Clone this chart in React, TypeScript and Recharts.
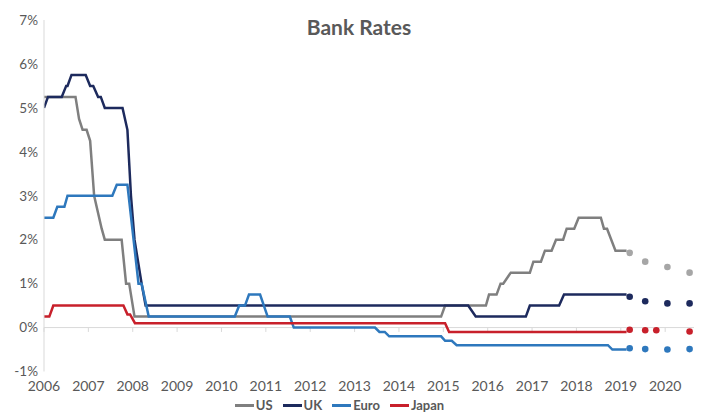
import React from "react";
import { LineChart, Line, XAxis, YAxis, ReferenceLine, Legend } from "recharts";

const yearTicks = [2006, 2007, 2008, 2009, 2010, 2011, 2012, 2013, 2014, 2015, 2016, 2017, 2018, 2019, 2020];
const rateTicks = [-1, 0, 1, 2, 3, 4, 5, 6, 7];

const usPoints: [number, number][] = [
  [2006.0, 5.25], [2006.71, 5.25], [2006.79, 4.75], [2006.87, 4.5], [2006.96, 4.5], [2007.04, 4.25],
  [2007.13, 3.0], [2007.3, 2.25], [2007.37, 2.0], [2007.75, 2.0], [2007.85, 1.0], [2007.92, 1.0],
  [2008.04, 0.25], [2014.95, 0.25], [2015.04, 0.5], [2015.96, 0.5], [2016.03, 0.75], [2016.2, 0.75],
  [2016.29, 1.0], [2016.35, 1.0], [2016.52, 1.25], [2016.95, 1.25], [2017.03, 1.5], [2017.2, 1.5],
  [2017.29, 1.75], [2017.44, 1.75], [2017.54, 2.0], [2017.7, 2.0], [2017.78, 2.25], [2017.95, 2.25],
  [2018.05, 2.5], [2018.55, 2.5], [2018.62, 2.25], [2018.69, 2.25], [2018.88, 1.75], [2019.13, 1.75],
];

const ukPoints: [number, number][] = [
  [2006.0, 5.0], [2006.09, 5.25], [2006.4, 5.25], [2006.5, 5.5], [2006.53, 5.5], [2006.62, 5.75],
  [2006.94, 5.75], [2007.04, 5.5], [2007.11, 5.5], [2007.22, 5.25], [2007.28, 5.25], [2007.37, 5.0],
  [2007.77, 5.0], [2007.88, 4.5], [2007.96, 3.0], [2008.04, 2.0], [2008.12, 1.5], [2008.2, 1.0],
  [2008.29, 0.5], [2015.56, 0.5], [2015.73, 0.25], [2016.86, 0.25], [2016.95, 0.5], [2017.61, 0.5],
  [2017.72, 0.75], [2019.13, 0.75],
];

const euroPoints: [number, number][] = [
  [2006.0, 2.5], [2006.21, 2.5], [2006.3, 2.75], [2006.46, 2.75], [2006.53, 3.0], [2007.54, 3.0],
  [2007.64, 3.25], [2007.88, 3.25], [2008.13, 1.0], [2008.2, 1.0], [2008.36, 0.25], [2010.3, 0.25],
  [2010.4, 0.5], [2010.53, 0.5], [2010.62, 0.75], [2010.87, 0.75], [2011.04, 0.25], [2011.54, 0.25],
  [2011.63, 0.0], [2013.46, 0.0], [2013.56, -0.1], [2013.68, -0.1], [2013.78, -0.2], [2014.95, -0.2],
  [2015.04, -0.3], [2015.19, -0.3], [2015.3, -0.4], [2018.71, -0.4], [2018.81, -0.5], [2019.13, -0.5],
];

const japanPoints: [number, number][] = [
  [2006.0, 0.25], [2006.12, 0.25], [2006.21, 0.5], [2007.79, 0.5], [2007.88, 0.3], [2007.94, 0.3],
  [2008.05, 0.1], [2015.04, 0.1], [2015.13, -0.1], [2019.13, -0.1],
];

const usForecast: [number, number][] = [[2019.2, 1.7], [2019.55, 1.5], [2020.05, 1.38], [2020.55, 1.25]];
const ukForecast: [number, number][] = [[2019.2, 0.7], [2019.55, 0.6], [2020.05, 0.55], [2020.55, 0.55]];
const euroForecast: [number, number][] = [[2019.2, -0.47], [2019.55, -0.49], [2020.05, -0.5], [2020.55, -0.49]];
const japanForecast: [number, number][] = [[2019.2, -0.05], [2019.55, -0.06], [2019.8, -0.06], [2020.55, -0.09]];

const toRows = (pts: [number, number][]) => pts.map(([t, v]) => ({ t, v }));

const FONT = "Lato, 'Open Sans', sans-serif";
const TEXT = "#595959";

const series = [
  { name: "US", color: "#7f7f7f", dotColor: "#a6a6a6", line: usPoints, dots: usForecast },
  { name: "UK", color: "#1d2a5d", dotColor: "#1d2a5d", line: ukPoints, dots: ukForecast },
  { name: "Euro", color: "#2e78bd", dotColor: "#2e78bd", line: euroPoints, dots: euroForecast },
  { name: "Japan", color: "#c8202b", dotColor: "#c8202b", line: japanPoints, dots: japanForecast },
];
const seriesOrder = series.map((s) => s.name);

const renderLegend = (props: any) => {
  const payload = (props.payload || [])
    .filter((p: any) => p.type !== "none" && seriesOrder.includes(p.value))
    .sort((a: any, b: any) => seriesOrder.indexOf(a.value) - seriesOrder.indexOf(b.value));
  return (
    <div
      style={{
        width: 694,
        height: 14,
        display: "flex",
        justifyContent: "center",
        alignItems: "center",
        paddingRight: 31,
        boxSizing: "border-box",
        fontFamily: FONT,
        fontWeight: 700,
        fontSize: 13,
        color: TEXT,
        lineHeight: "14px",
      }}
    >
      {payload.map((p: any) => (
        <div key={p.value} style={{ display: "flex", alignItems: "center", margin: "0 5px" }}>
          <div style={{ width: 19, height: 3, background: p.color, marginRight: 2 }} />
          <span>{p.value}</span>
        </div>
      ))}
    </div>
  );
};

export default function App() {
  return (
    <div style={{ position: "relative", width: 694, height: 404, fontFamily: FONT }}>
      <div
        style={{
          position: "absolute",
          left: 251,
          top: 6,
          width: 200,
          textAlign: "center",
          fontFamily: FONT,
          fontWeight: 700,
          fontSize: 21,
          color: TEXT,
          zIndex: 2,
        }}
      >
        Bank Rates
      </div>
      <LineChart width={694} height={404} margin={{ top: 12, right: 0, left: 0, bottom: 0 }}>
        <XAxis
          dataKey="t"
          type="number"
          domain={[2006, 2020.83]}
          ticks={yearTicks}
          allowDataOverflow
          axisLine={false}
          tickLine={false}
          tickSize={0}
          tickMargin={10}
          height={26.5}
          interval={0}
          tick={{ fontFamily: FONT, fontSize: 14, fill: TEXT }}
        />
        <YAxis
          type="number"
          domain={[-1, 7]}
          ticks={rateTicks}
          width={36}
          axisLine={{ stroke: "#d9d9d9" }}
          tickLine={false}
          tickSize={0}
          tickMargin={6}
          tickFormatter={(v: number) => `${v}%`}
          tick={{ fontFamily: FONT, fontSize: 13.5, fill: TEXT }}
        />
        <ReferenceLine y={0} stroke="#d9d9d9" strokeWidth={1} />
        {yearTicks.map((yr) => (
          <ReferenceLine
            key={yr}
            segment={[{ x: yr, y: 0 }, { x: yr, y: -0.1 }]}
            stroke="#d9d9d9"
            strokeWidth={1}
          />
        ))}
        {series.map((s) => (
          <Line
            key={s.name}
            name={s.name}
            data={toRows(s.line)}
            dataKey="v"
            type="linear"
            stroke={s.color}
            strokeWidth={2.5}
            dot={false}
            activeDot={false}
            isAnimationActive={false}
          />
        ))}
        {series.map((s) => (
          <Line
            key={s.name + "-f"}
            name={s.name + " forecast"}
            data={toRows(s.dots)}
            dataKey="v"
            type="linear"
            stroke="none"
            strokeWidth={0}
            legendType="none"
            dot={{ r: 3.3, fill: s.dotColor, stroke: s.dotColor, strokeWidth: 0 }}
            activeDot={false}
            isAnimationActive={false}
          />
        ))}
        <Legend verticalAlign="bottom" align="left" height={14} wrapperStyle={{ left: 0, width: 694 }} content={renderLegend} />
      </LineChart>
    </div>
  );
}
